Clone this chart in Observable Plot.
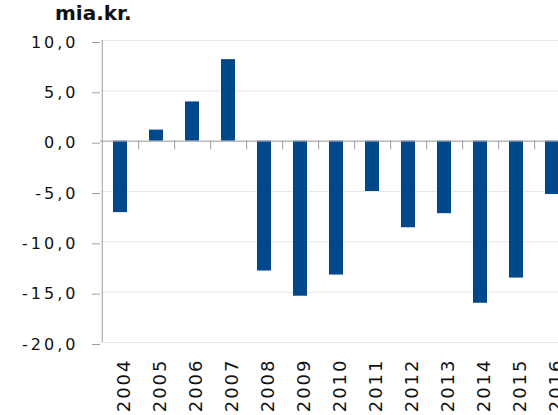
<!DOCTYPE html>
<html><head><meta charset="utf-8">
<script src="https://cdn.jsdelivr.net/npm/d3@7"></script>
<script src="https://cdn.jsdelivr.net/npm/@observablehq/plot@0.6"></script>
<style>
html,body{margin:0;padding:0;overflow:hidden;background:#fff;}
#wrap{position:relative;width:558px;height:415px;overflow:hidden;}
#title{position:absolute;left:55px;top:1px;font:bold 20px "DejaVu Sans";color:#111;}
#chart svg{max-width:none !important;}
</style></head><body>
<div id="wrap"><div id="title">mia.kr.</div><div id="chart"></div></div>
<script>
const years = ["2004","2005","2006","2007","2008","2009","2010","2011","2012","2013","2014","2015","2016"];
const values = [-7.1, 1.1, 3.9, 8.1, -12.9, -15.4, -13.3, -5.0, -8.6, -7.2, -16.1, -13.6, -5.3];
const yTicks = [-20, -15, -10, -5, 0, 5, 10];

const data = years.map((year, i) => ({year, value: values[i]}));
const W = 573, ML = 100, MR = 0, H = 415, MT = 40, MB = 73;
const step = (W - ML - MR) / years.length;
const gray = "#a0a0a0";

const chart = Plot.plot({
  width: W, height: H,
  marginLeft: ML, marginRight: MR, marginTop: MT, marginBottom: MB,
  style: {fontFamily: "DejaVu Sans", background: "white", color: "#111", maxWidth: "none"},
  x: {domain: years, paddingInner: 0.6, paddingOuter: 0.3, axis: null, label: null},
  y: {domain: [-20, 10], axis: null, label: null},
  marks: [
    Plot.gridY(yTicks, {stroke: "#e8e8e8", strokeOpacity: 1}),
    Plot.barY(data, {x: "year", y: "value", fill: "#00478C"}),
    Plot.ruleY([0], {stroke: gray}),
    Plot.ruleX(years, {x: d => d, y1: 0, y2: 0, insetBottom: -9, dx: step / 2, stroke: gray}),
    Plot.ruleX([years[0]], {x: d => d, y1: -20, y2: 10, dx: -step / 2, stroke: gray}),
    Plot.axisY(yTicks, {tickSize: 8, tickPadding: 14, tickFormat: d => d.toFixed(1).replace(".", ","), fontSize: 16, stroke: gray, fill: "#111", dy: 2, label: null}),
    Plot.axisX({anchor: "bottom", tickSize: 0, tickPadding: 16, tickRotate: -90, fontSize: 18, fill: "#111", dx: 4, label: null})
  ]
});
d3.select(chart).selectAll('g[aria-label="y-axis tick label"] text').attr("letter-spacing", "3px");
d3.select(chart).selectAll('g[aria-label="x-axis tick label"] text').attr("letter-spacing", "2px");
document.getElementById("chart").appendChild(chart);
</script>
</body></html>
